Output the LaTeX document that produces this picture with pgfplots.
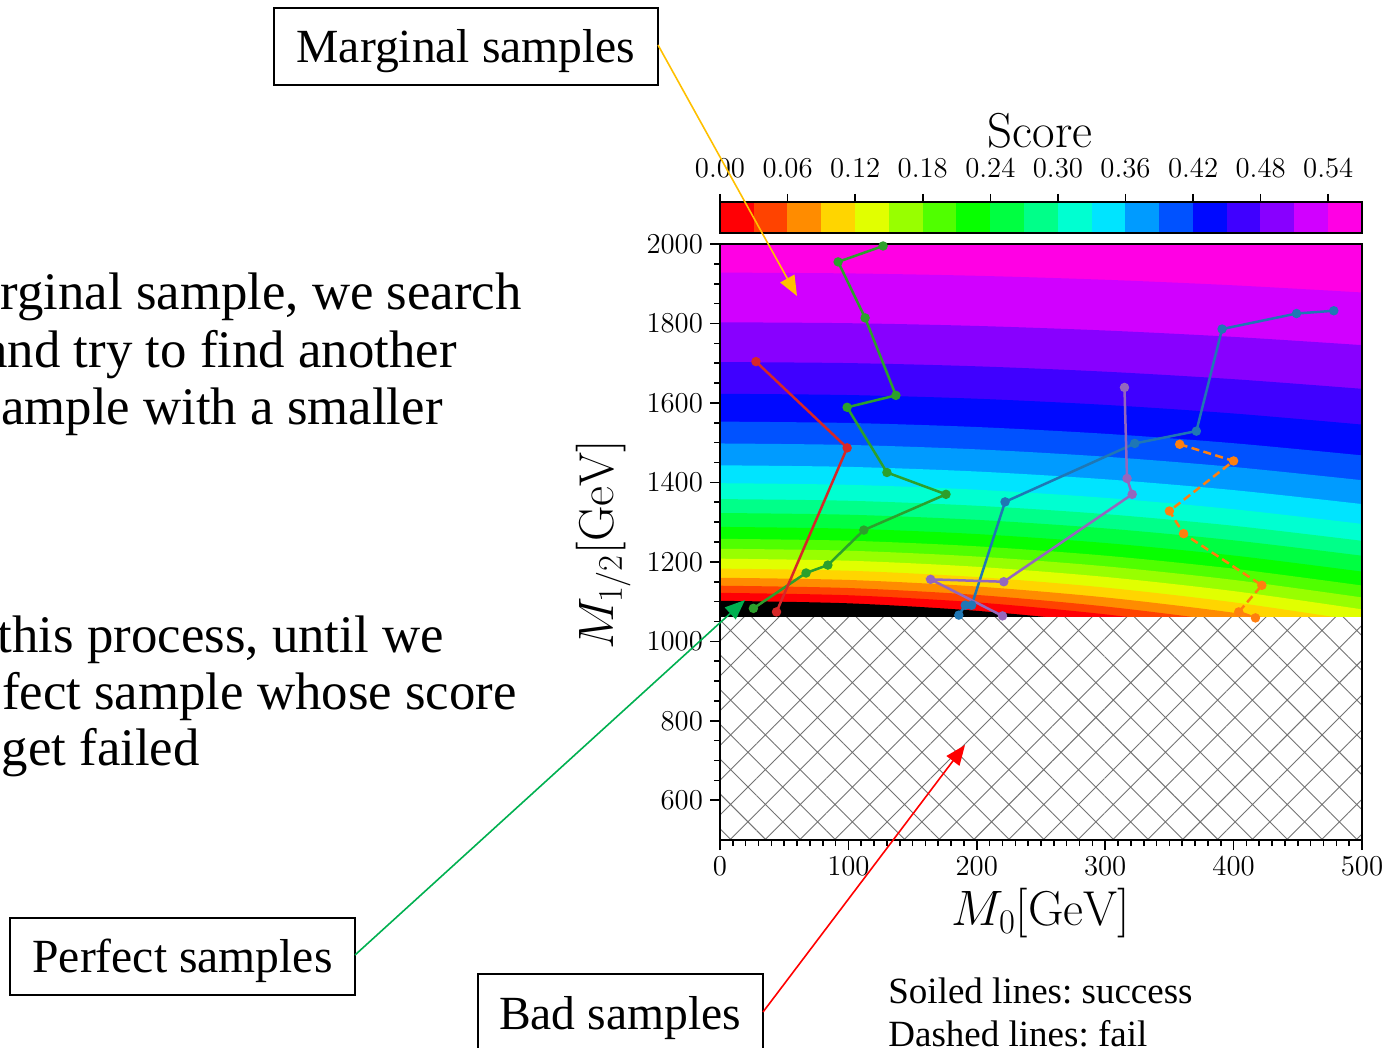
\documentclass[border=0pt]{standalone}
\usepackage{fontspec}
\newfontfamily\tnr{Liberation Serif}
\usepackage{pgfplots}
\pgfplotsset{compat=1.18}
\pgfplotsset{/pgf/number format/1000 sep={}}
\usetikzlibrary{arrows.meta,patterns.meta}
\frenchspacing
\definecolor{c0}{RGB}{255,0,5}
\definecolor{c1}{RGB}{255,67,0}
\definecolor{c2}{RGB}{255,140,0}
\definecolor{c3}{RGB}{255,213,0}
\definecolor{c4}{RGB}{225,255,0}
\definecolor{c5}{RGB}{152,255,0}
\definecolor{c6}{RGB}{80,255,0}
\definecolor{c7}{RGB}{7,255,0}
\definecolor{c8}{RGB}{0,255,65}
\definecolor{c9}{RGB}{0,255,137}
\definecolor{c10}{RGB}{0,255,209}
\definecolor{c11}{RGB}{0,228,255}
\definecolor{c12}{RGB}{0,155,255}
\definecolor{c13}{RGB}{0,82,255}
\definecolor{c14}{RGB}{0,9,255}
\definecolor{c15}{RGB}{63,0,255}
\definecolor{c16}{RGB}{136,0,255}
\definecolor{c17}{RGB}{209,0,255}
\definecolor{c18}{RGB}{255,0,228}
\definecolor{tabblue}{RGB}{31,119,180}
\definecolor{taborange}{RGB}{255,127,14}
\definecolor{tabgreen}{RGB}{44,160,44}
\definecolor{tabred}{RGB}{214,39,40}
\definecolor{tabpurple}{RGB}{148,103,189}
\definecolor{arrY}{RGB}{255,192,0}
\definecolor{arrG}{RGB}{0,176,80}
\definecolor{arrR}{RGB}{255,0,0}
\begin{document}
\begin{tikzpicture}
\useasboundingbox (0,0) rectangle (698pt,-524pt);
% ---------------- main axis ----------------
\begin{axis}[
  at={(360pt,-420pt)}, anchor=south west,
  width=321pt, height=298pt, scale only axis,
  xmin=0, xmax=500, ymin=500, ymax=2000,
  xtick={0,100,200,300,400,500},
  ytick={600,800,1000,1200,1400,1600,1800,2000},
  minor x tick num=9, minor y tick num=3,
  tick align=outside, tick pos=left,
  major tick length=5pt, minor tick length=3pt,
  every tick/.style={black, line width=0.8pt},
  axis line style={line width=1pt},
  scaled ticks=false,
  tick label style={font=\fontsize{14.4}{17}\selectfont},
  label style={font=\fontsize{24.5}{28}\selectfont},
  xlabel={$M_0[\mathrm{GeV}]$},
  ylabel={$M_{1/2}[\mathrm{GeV}]$},
  xlabel style={at={(axis description cs:0.5,-0.123)}, anchor=center},
  ylabel style={at={(axis description cs:-0.182,0.495)}, anchor=center},
  axis on top,
]
% score bands (contour boundaries of the levels 0.54 ... 0.00)
\addplot[draw=none, fill=c18] coordinates {(0,2000)(500,2000)} \closedcycle;
\addplot[draw=none, fill=c17, smooth] coordinates {(0,1928)(100,1926)(200,1920)(300,1910)(400,1896)(500,1878)} \closedcycle;
\addplot[draw=none, fill=c16, smooth] coordinates {(0,1803)(100,1800.7)(200,1793.8)(300,1782.3)(400,1766.2)(500,1745.5)} \closedcycle;
\addplot[draw=none, fill=c15, smooth] coordinates {(0,1703)(100,1700.3)(200,1692.2)(300,1678.7)(400,1659.8)(500,1635.5)} \closedcycle;
\addplot[draw=none, fill=c14, smooth] coordinates {(0,1623)(100,1619.9)(200,1610.6)(300,1595.1)(400,1573.4)(500,1545.5)} \closedcycle;
\addplot[draw=none, fill=c13, smooth] coordinates {(0,1553)(100,1549.6)(200,1539.4)(300,1522.4)(400,1498.6)(500,1468)} \closedcycle;
\addplot[draw=none, fill=c12, smooth] coordinates {(0,1498)(100,1494.3)(200,1483.2)(300,1464.7)(400,1438.8)(500,1405.5)} \closedcycle;
\addplot[draw=none, fill=c11, smooth] coordinates {(0,1443)(100,1439.1)(200,1427.4)(300,1407.9)(400,1380.6)(500,1345.5)} \closedcycle;
\addplot[draw=none, fill=c10, smooth] coordinates {(0,1398)(100,1393.9)(200,1381.6)(300,1361.1)(400,1332.4)(500,1295.5)} \closedcycle;
\addplot[draw=none, fill=c9, smooth] coordinates {(0,1358)(100,1353.8)(200,1341.2)(300,1320.2)(400,1290.8)(500,1253)} \closedcycle;
\addplot[draw=none, fill=c8, smooth] coordinates {(0,1323)(100,1318.7)(200,1305.8)(300,1284.3)(400,1254.2)(500,1215.5)} \closedcycle;
\addplot[draw=none, fill=c7, smooth] coordinates {(0,1288)(100,1283.5)(200,1270)(300,1247.5)(400,1216)(500,1175.5)} \closedcycle;
\addplot[draw=none, fill=c6, smooth] coordinates {(0,1258)(100,1253.3)(200,1239.2)(300,1215.7)(400,1182.8)(500,1140.5)} \closedcycle;
\addplot[draw=none, fill=c5, smooth] coordinates {(0,1233)(100,1228.1)(200,1213.4)(300,1188.9)(400,1154.6)(500,1110.5)} \closedcycle;
\addplot[draw=none, fill=c4, smooth] coordinates {(0,1208)(100,1202.9)(200,1187.6)(300,1162.1)(400,1126.4)(500,1080.5)} \closedcycle;
\addplot[draw=none, fill=c3, smooth] coordinates {(0,1183)(100,1177.7)(200,1161.8)(300,1135.3)(400,1098.2)(500,1050.5)} \closedcycle;
\addplot[draw=none, fill=c2, smooth] coordinates {(0,1160)(100,1154.5)(200,1138)(300,1110.5)(400,1072)(500,1022.5)} \closedcycle;
\addplot[draw=none, fill=c1, smooth] coordinates {(0,1140)(100,1134.2)(200,1116.8)(300,1087.8)(400,1047.2)(500,995)} \closedcycle;
\addplot[draw=none, fill=c0, smooth] coordinates {(0,1122)(100,1116)(200,1098)(300,1068)(400,1026)(500,972)} \closedcycle;
\addplot[draw=none, fill=black, smooth] coordinates {(0,1102)(100,1095.7)(200,1076.8)(300,1045.3)(400,1001.2)(500,944.5)} \closedcycle;
% excluded (hatched) region
\addplot[draw=none, fill=white] coordinates {(0,1061)(500,1061)} \closedcycle;
\addplot[draw=none, pattern={Hatch[angle=45,distance=12.3pt,line width=0.45pt]}, pattern color=black!55] coordinates {(0,1061)(500,1061)} \closedcycle;
% sample paths
\addplot[tabgreen, line width=1.25pt, mark=*, mark size=1.7pt] coordinates {(127,1995)(92,1955)(113,1814)(137,1619)(99,1589)(130,1425)(176,1370)(112,1280)(84,1192)(67,1172)(26,1083)};
\addplot[tabred, line width=1.25pt, mark=*, mark size=1.7pt] coordinates {(28,1704)(99,1487)(44,1074)};
\addplot[tabblue, line width=1.25pt, mark=*, mark size=1.7pt] coordinates {(186,1066)(191,1091)(196,1091)(222,1351)(323,1498)(371,1529)(391,1786)(449,1825)(478,1832)};
\addplot[tabpurple, line width=1.25pt, mark=*, mark size=1.7pt] coordinates {(315,1639)(317,1410)(321,1370)(221,1150)(164,1156)(220,1064)};
\addplot[taborange, line width=1.25pt, dash pattern=on 4pt off 2.2pt, mark=*, mark size=1.7pt, mark options={solid}] coordinates {(358,1496)(400,1454)(350,1328)(361,1271)(422,1141)(404,1074)(417,1059)};
\end{axis}
% ---------------- colour bar ----------------
\begin{axis}[
  at={(360pt,-116.5pt)}, anchor=south west,
  width=321pt, height=15.5pt, scale only axis,
  xmin=0, xmax=0.57, ymin=0, ymax=1,
  xtick={0,0.06,0.12,0.18,0.24,0.30,0.36,0.42,0.48,0.54},
  xticklabels={$0.00$,$0.06$,$0.12$,$0.18$,$0.24$,$0.30$,$0.36$,$0.42$,$0.48$,$0.54$},
  ytick=\empty,
  xtick pos=upper, xticklabel pos=upper,
  tick align=outside, major tick length=4pt,
  every tick/.style={black, line width=0.8pt},
  axis line style={line width=1pt},
  scaled ticks=false,
  tick label style={font=\fontsize{14.4}{17}\selectfont},
  xticklabel style={yshift=4.5pt},
  axis on top,
]
\addplot[fill=c0, draw=c0, line width=0.2pt] coordinates {(0,1)(0.03,1)} \closedcycle;
\addplot[fill=c1, draw=c1, line width=0.2pt] coordinates {(0.03,1)(0.06,1)} \closedcycle;
\addplot[fill=c2, draw=c2, line width=0.2pt] coordinates {(0.06,1)(0.09,1)} \closedcycle;
\addplot[fill=c3, draw=c3, line width=0.2pt] coordinates {(0.09,1)(0.12,1)} \closedcycle;
\addplot[fill=c4, draw=c4, line width=0.2pt] coordinates {(0.12,1)(0.15,1)} \closedcycle;
\addplot[fill=c5, draw=c5, line width=0.2pt] coordinates {(0.15,1)(0.18,1)} \closedcycle;
\addplot[fill=c6, draw=c6, line width=0.2pt] coordinates {(0.18,1)(0.21,1)} \closedcycle;
\addplot[fill=c7, draw=c7, line width=0.2pt] coordinates {(0.21,1)(0.24,1)} \closedcycle;
\addplot[fill=c8, draw=c8, line width=0.2pt] coordinates {(0.24,1)(0.27,1)} \closedcycle;
\addplot[fill=c9, draw=c9, line width=0.2pt] coordinates {(0.27,1)(0.30,1)} \closedcycle;
\addplot[fill=c10, draw=c10, line width=0.2pt] coordinates {(0.30,1)(0.33,1)} \closedcycle;
\addplot[fill=c11, draw=c11, line width=0.2pt] coordinates {(0.33,1)(0.36,1)} \closedcycle;
\addplot[fill=c12, draw=c12, line width=0.2pt] coordinates {(0.36,1)(0.39,1)} \closedcycle;
\addplot[fill=c13, draw=c13, line width=0.2pt] coordinates {(0.39,1)(0.42,1)} \closedcycle;
\addplot[fill=c14, draw=c14, line width=0.2pt] coordinates {(0.42,1)(0.45,1)} \closedcycle;
\addplot[fill=c15, draw=c15, line width=0.2pt] coordinates {(0.45,1)(0.48,1)} \closedcycle;
\addplot[fill=c16, draw=c16, line width=0.2pt] coordinates {(0.48,1)(0.51,1)} \closedcycle;
\addplot[fill=c17, draw=c17, line width=0.2pt] coordinates {(0.51,1)(0.54,1)} \closedcycle;
\addplot[fill=c18, draw=c18, line width=0.2pt] coordinates {(0.54,1)(0.57,1)} \closedcycle;
\end{axis}
% ---------------- annotations (pixel grid) ----------------
\begin{scope}[x=0.5pt,y=-0.5pt]
\node[font=\fontsize{24.5}{28}\selectfont] at (1040,131) {Score};
% explanatory text (cut at the left edge)
\begin{scope}[every node/.style={anchor=base east, inner sep=0pt, font=\tnr\fontsize{26.4}{30}\selectfont}]
\node at (522,309) {rginal sample, we search};
\node at (457,367) {and try to find another};
\node at (443,424) {sample with a smaller};
\node at (444,652) {this process, until we};
\node at (517,709) {fect sample whose score};
\node at (200,765) {get failed};
\end{scope}
% boxes
\draw[line width=0.75pt] (274,8) rectangle (658,85);
\node[font=\tnr\fontsize{23.8}{26}\selectfont] at (466,51) {Marginal samples};
\draw[line width=0.75pt] (10,918) rectangle (355,995);
\node[font=\tnr\fontsize{23.8}{26}\selectfont] at (182.5,961) {Perfect samples};
\draw[line width=0.75pt] (478,974) rectangle (763,1052);
\node[font=\tnr\fontsize{23.8}{26}\selectfont] at (620,1018) {Bad samples};
\node[anchor=base west, inner sep=0pt, font=\tnr\fontsize{18.5}{22}\selectfont] at (888,1003) {Soiled lines: success};
\node[anchor=base west, inner sep=0pt, font=\tnr\fontsize{18.5}{22}\selectfont] at (888,1046) {Dashed lines: fail};
% arrows
\draw[arrY, line width=0.8pt, -{Triangle[length=10pt,width=8pt]}] (658,45) -- (797,296);
\draw[arrG, line width=0.8pt, -{Triangle[length=10pt,width=8pt]}] (355,955) -- (745,600);
\draw[arrR, line width=0.8pt, -{Triangle[length=10pt,width=8pt]}] (763,1012) -- (965,745);
\end{scope}
\end{tikzpicture}
\end{document}
